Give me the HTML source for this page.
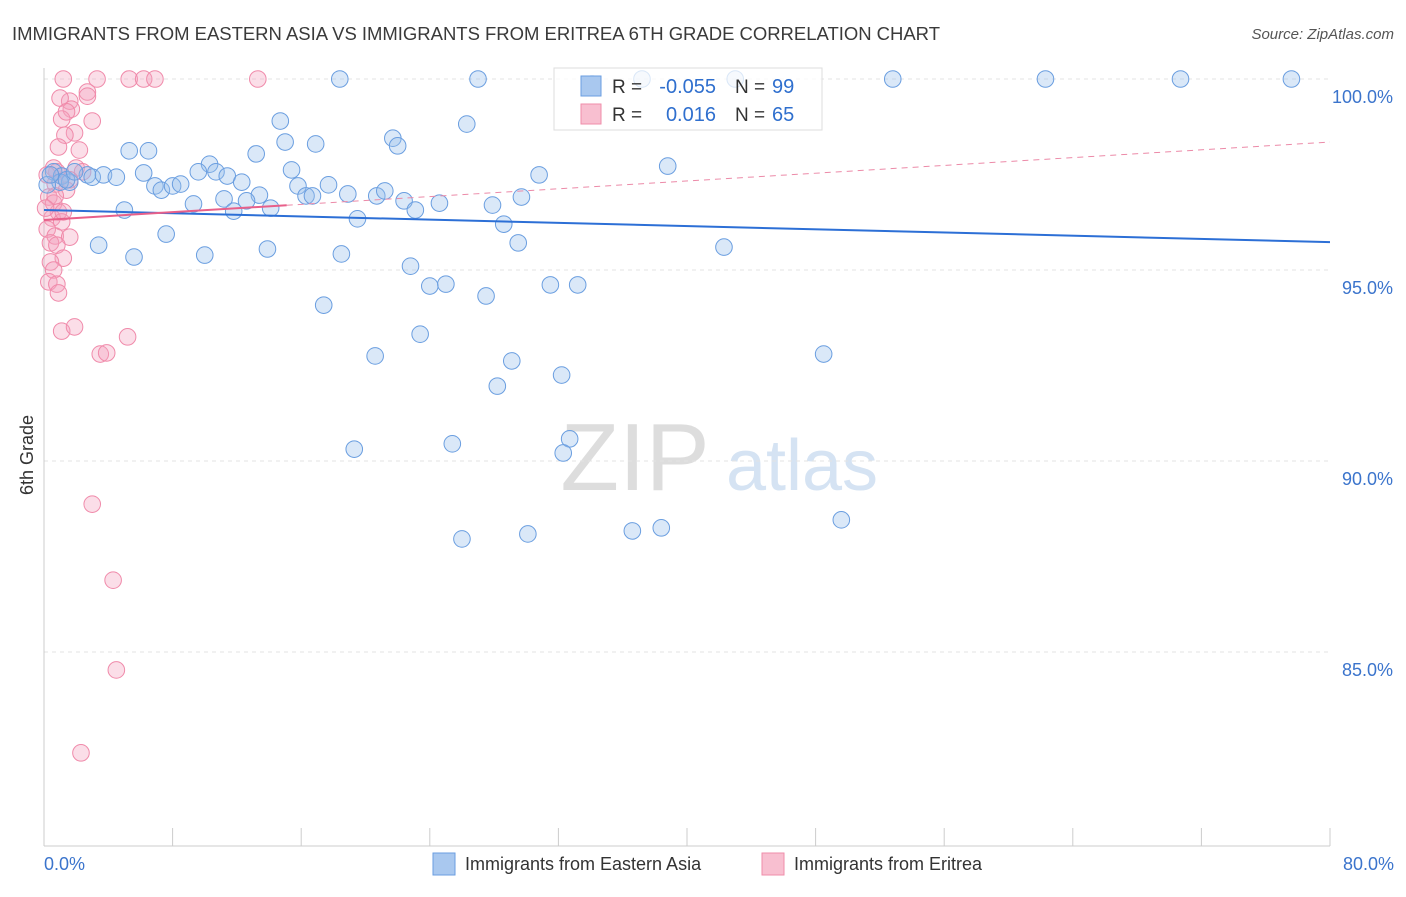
<!DOCTYPE html>
<html><head><meta charset="utf-8">
<style>
body{margin:0;background:#fff;font-family:"Liberation Sans",sans-serif;}
svg text{font-family:"Liberation Sans",sans-serif;}
</style></head>
<body>
<svg id="chart" width="1406" height="892" xmlns="http://www.w3.org/2000/svg">
<text x="12" y="40" font-size="18.5" fill="#3a3a3a" textLength="928">IMMIGRANTS FROM EASTERN ASIA VS IMMIGRANTS FROM ERITREA 6TH GRADE CORRELATION CHART</text>
<text x="1394" y="39" font-size="15" fill="#555" text-anchor="end" font-style="italic">Source: ZipAtlas.com</text>
<text x="33" y="455" font-size="18" fill="#333" text-anchor="middle" transform="rotate(-90 33 455)">6th Grade</text>
<g><text x="635" y="490" font-size="96" fill="#ddd" text-anchor="middle" font-family="Liberation Serif,serif">ZIP</text><text x="802" y="490" font-size="72" fill="#d5e3f3" text-anchor="middle">atlas</text></g>
<g id="grid"></g><g id="axes"></g><g id="pink"></g><g id="blue"></g><g id="trend"></g>
<g>
<rect x="554" y="68" width="268" height="62" fill="#fff" fill-opacity="0.75" stroke="#ddd"/>
<rect x="581" y="76" width="20" height="20" fill="#a9c8ef" stroke="#6a9ee0"/>
<rect x="581" y="104" width="20" height="20" fill="#f8bfd0" stroke="#ef8eaa"/>
<text x="612" y="93" font-size="19" fill="#333">R =</text>
<text x="716" y="93" font-size="20" fill="#2f6fce" text-anchor="end">-0.055</text>
<text x="735" y="93" font-size="19" fill="#333">N =</text>
<text x="772" y="93" font-size="20" fill="#2f6fce">99</text>
<text x="612" y="121" font-size="19" fill="#333">R =</text>
<text x="716" y="121" font-size="20" fill="#2f6fce" text-anchor="end">0.016</text>
<text x="735" y="121" font-size="19" fill="#333">N =</text>
<text x="772" y="121" font-size="20" fill="#2f6fce">65</text>
</g>
<g>
<rect x="433" y="853" width="22" height="22" fill="#a9c8ef" stroke="#6a9ee0"/>
<text x="465" y="870" font-size="18" fill="#333">Immigrants from Eastern Asia</text>
<rect x="762" y="853" width="22" height="22" fill="#f8bfd0" stroke="#ef8eaa"/>
<text x="794" y="870" font-size="18" fill="#333">Immigrants from Eritrea</text>
</g>
</svg>
<script>
const yTicks=[100,95,90,85];
const yTickLabels=["100.0%","95.0%","90.0%","85.0%"];
const xTickLabels=["0.0%","80.0%"];
const blueX=[18.4,27.0,34.1,37.2,43.0,52.8,62.3,70.7,77.6,14.7,26.3,21.7,22.0,15.0,16.9,5.3,6.5,13.2,38.8,10.3,15.4,6.2,9.6,10.7,11.4,30.8,0.6,1.1,1.6,2.7,3.0,3.7,4.5,6.9,7.3,8.0,8.5,12.3,15.8,17.7,16.3,16.7,13.4,18.9,20.7,21.2,22.4,23.1,24.6,27.9,29.7,9.3,11.2,12.6,11.8,14.1,5.0,19.5,28.6,7.6,29.5,3.4,13.9,42.3,5.6,10.0,18.5,22.8,24.0,25.0,27.5,31.5,33.2,17.4,23.4,20.6,29.1,48.5,32.2,28.2,32.7,32.3,19.3,25.4,26.0,30.1,36.6,38.4,49.6,1.0,1.4,0.2,1.9,0.4];
const blueY=[100,100,99.87,100,100,100,100,100,100,98.9,98.82,98.45,98.25,98.35,98.3,98.12,98.12,98.04,97.72,97.77,97.62,97.54,97.57,97.57,97.46,97.49,97.57,97.46,97.30,97.49,97.43,97.49,97.43,97.2,97.09,97.2,97.25,97.3,97.2,97.23,96.94,96.94,96.96,96.99,96.94,97.07,96.81,96.57,96.75,96.7,96.91,96.73,96.86,96.81,96.54,96.62,96.57,96.34,96.2,95.94,95.71,95.65,95.55,95.6,95.34,95.39,95.42,95.1,94.58,94.63,94.32,94.61,94.61,94.08,93.32,92.75,92.62,92.8,92.25,91.96,90.58,90.21,90.31,90.45,87.96,88.09,88.17,88.25,88.46,97.3,97.36,97.23,97.57,97.49];
const pinkX=[1.2,3.3,5.3,6.2,6.9,13.3,2.7,1.6,1.7,3.0,1.1,1.9,1.3,0.9,2.2,0.6,0.8,2.0,2.4,1.1,1.6,0.7,1.4,0.3,0.6,0.9,0.5,1.1,0.2,0.7,1.6,0.4,0.8,1.2,0.4,0.6,0.3,0.8,0.9,1.1,1.9,3.5,3.9,5.2,3.0,4.3,4.5,2.3,0.7,0.1,1.2,0.2,1.0,2.7,1.4];
const pinkY=[100,100,100,100,100,100,99.66,99.42,99.21,98.9,98.95,98.59,98.53,98.22,98.14,97.67,97.57,97.67,97.57,97.46,97.36,97.25,97.09,96.91,96.75,96.52,96.36,96.26,96.07,95.89,95.86,95.71,95.65,95.31,95.21,95.0,94.69,94.63,94.4,93.4,93.51,92.8,92.83,93.25,88.87,86.88,84.53,82.36,96.94,96.62,96.52,97.49,99.5,99.55,99.14];
const blueTrend=[96.57,95.73];
const pinkTrend=[96.31,98.35];
const pinkSolidEnd=15.1;

const X=v=>44+v*16.075, Y=v=>79+(100-v)*38.2;
const NS="http://www.w3.org/2000/svg";
function mk(tag,attrs,parent){const e=document.createElementNS(NS,tag);for(const k in attrs)e.setAttribute(k,attrs[k]);document.getElementById(parent).appendChild(e);return e;}
yTicks.forEach((t,i)=>{
 const l=mk('line',{x1:44,x2:1330,y1:Y(t),y2:Y(t),stroke:'#e3e3e3','stroke-dasharray':'4,4'},'grid');
 
 
 const tx=mk('text',{x:1393,y:Y(t)+24,'font-size':18,fill:'#3b74cc','text-anchor':'end'},'grid');
 tx.textContent=yTickLabels[i];
 
 
});
let a=mk('line',{x1:44,x2:44,y1:68,y2:846,stroke:'#ccc'},'axes');


a=mk('line',{x1:44,x2:1330,y1:846,y2:846,stroke:'#ccc'},'axes');


for(let i=0;i<=10;i++){const t=mk('line',{x1:X(i*8),x2:X(i*8),y1:828,y2:846,stroke:'#ccc'},'axes');
 
 }
let t0=mk('text',{x:44,y:870,'font-size':18,fill:'#3b74cc'},'axes');t0.textContent=xTickLabels[0];


let t1=mk('text',{x:1394,y:870,'font-size':18,fill:'#3b74cc','text-anchor':'end'},'axes');t1.textContent=xTickLabels[1];


pinkX.forEach((v,i)=>{const c=mk('circle',{cx:X(v),cy:Y(pinkY[i]),r:8.3,fill:'rgba(244,160,188,0.35)',stroke:'#f08aaa','stroke-width':1},'pink');
 
 });
blueX.forEach((v,i)=>{const c=mk('circle',{cx:X(v),cy:Y(blueY[i]),r:8.3,fill:'rgba(150,188,236,0.35)',stroke:'#6a9ee0','stroke-width':1},'blue');
 
 });
let l=mk('line',{x1:X(0),y1:Y(blueTrend[0]),x2:X(80),y2:Y(blueTrend[1]),stroke:'#2c6fd6','stroke-width':2},'trend');


const pAt=x=>pinkTrend[0]+(pinkTrend[1]-pinkTrend[0])*x/80;
l=mk('line',{x1:X(0),y1:Y(pinkTrend[0]),x2:X(pinkSolidEnd),y2:Y(pAt(pinkSolidEnd)),stroke:'#e8608a','stroke-width':2},'trend');


l=mk('line',{x1:X(pinkSolidEnd),y1:Y(pAt(pinkSolidEnd)),x2:X(80),y2:Y(pinkTrend[1]),stroke:'#ec8aa8','stroke-width':1,'stroke-dasharray':'6,5'},'trend');


</script>
</body></html>
